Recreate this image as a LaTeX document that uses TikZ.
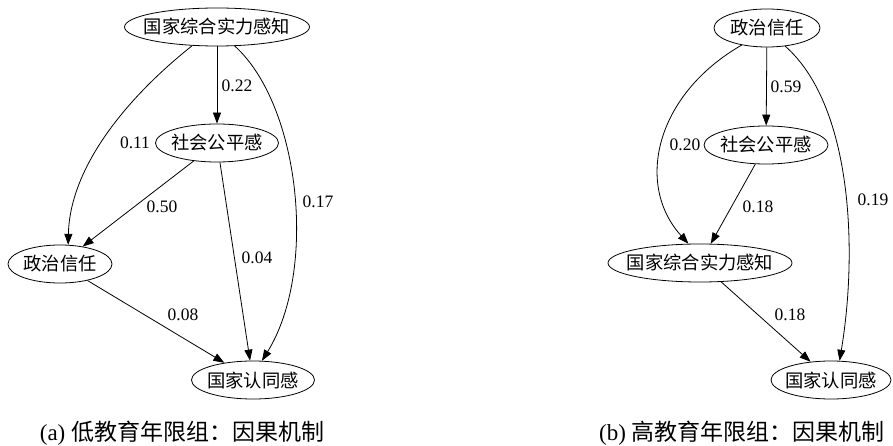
\documentclass[tikz,border=0pt]{standalone}
\usepackage{fontspec}
\setmainfont{Liberation Serif}
\newfontfamily\cjk{Noto Sans CJK SC}
\usetikzlibrary{shapes.geometric,arrows.meta}
\begin{document}
\begin{tikzpicture}[x=1pt,y=-1pt,
  ell/.style={draw,ellipse,line width=0.8pt,inner sep=0pt,minimum height=38pt,
    label={[font=\fontsize{18.3}{19}\selectfont\cjk,inner sep=0pt]center:#1}},
  edge/.style={line width=0.8pt,-{Triangle[length=11pt,width=8pt]}},
  lbl/.style={font=\fontsize{17.5}{18}\selectfont,inner sep=0pt},
  captext/.style={font=\fontsize{23}{24}\selectfont,inner sep=0pt}]
\useasboundingbox[fill=white] (0,0) rectangle (893,446);
% panel (a)
\node[ell=国家综合实力感知,minimum width=185pt] (A) at (217,27) {};
\node[ell=社会公平感,minimum width=123pt] (B) at (217,143) {};
\node[ell=政治信任,minimum width=104pt] (C) at (60,264) {};
\node[ell=国家认同感,minimum width=123pt] (D) at (253,380) {};
\draw[edge] (A) -- (B);
\draw[edge] (A.217) .. controls (130,95) and (70,165) .. (C.67);
\draw[edge] (A.313) .. controls (300,105) and (318,270) .. (D.65);
\draw[edge] (B) -- (C);
\draw[edge] (B) -- (D);
\draw[edge] (C) -- (D);
\node[lbl] (la1) at (237,86) {0.22};
\node[lbl] (la2) at (135,143) {0.11};
\node[lbl] (la3) at (162,207) {0.50};
\node[lbl] (la4) at (257,258) {0.04};
\node[lbl] (la5) at (318,202) {0.17};
\node[lbl] (la6) at (183,315) {0.08};
\node[captext] (capa) at (182,433) {(a) {\cjk 低教育年限组：因果机制}};
% panel (b)
\node[ell=政治信任,minimum width=106pt] (P) at (767,28) {};
\node[ell=社会公平感,minimum width=124pt] (S) at (766,145) {};
\node[ell=国家综合实力感知,minimum width=184pt] (N) at (700,263) {};
\node[ell=国家认同感,minimum width=120pt] (E) at (831,380) {};
\draw[edge] (P) -- (S);
\draw[edge] (P.214) .. controls (655,95) and (635,185) .. (N.121);
\draw[edge] (P.315) .. controls (852,105) and (858,250) .. (E.66);
\draw[edge] (S) -- (N);
\draw[edge] (N) -- (E);
\node[lbl] (lb1) at (786,87) {0.59};
\node[lbl] (lb2) at (685,145) {0.20};
\node[lbl] (lb3) at (758,207) {0.18};
\node[lbl] (lb4) at (873,200) {0.19};
\node[lbl] (lb5) at (790,315) {0.18};
\node[captext] (capb) at (742,433) {(b) {\cjk 高教育年限组：因果机制}};
\end{tikzpicture}
\end{document}
